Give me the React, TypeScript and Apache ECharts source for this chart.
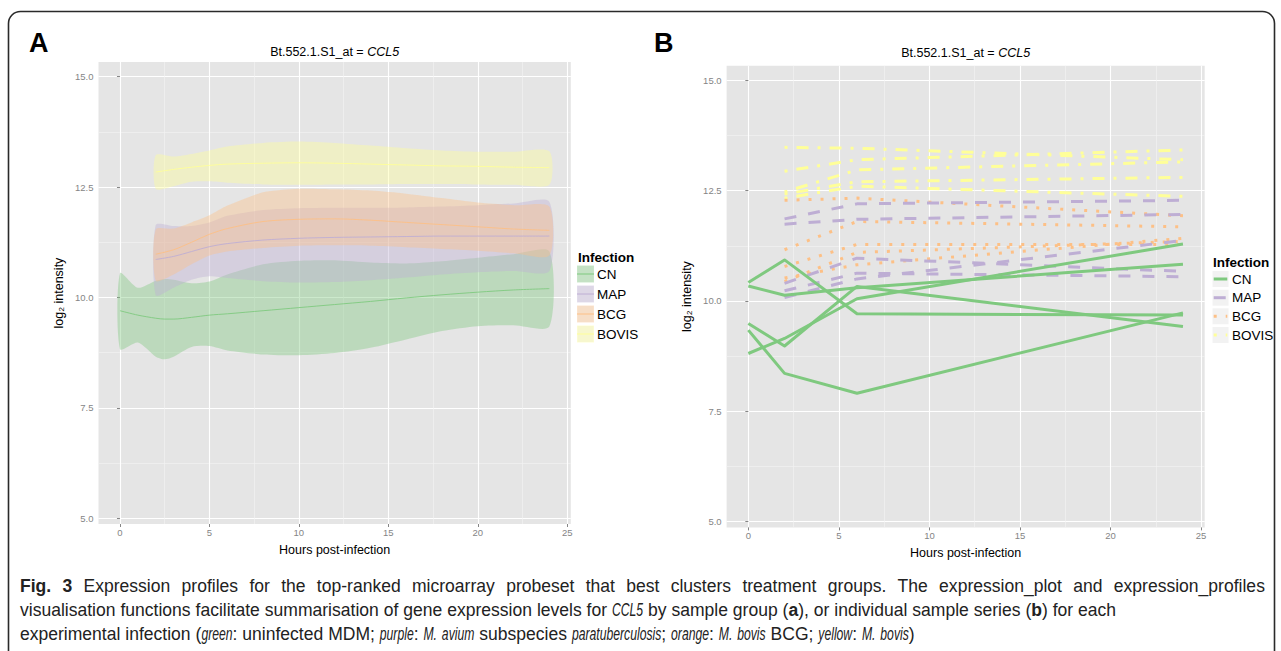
import React, { useEffect, useRef } from "react";
import * as echarts from "echarts";

const FONT = "'Liberation Sans', Arial, Helvetica, sans-serif";
const CAP_FAMILY = "'Liberation Sans'";

// ---------- shared ----------
const GROUPS = ["CN", "MAP", "BCG", "BOVIS"];
const HOUR_TICKS = [0, 5, 10, 15, 20, 25];
const HOUR_MINOR = [2.5, 7.5, 12.5, 17.5, 22.5];
const INT_TICKS = [5, 7.5, 10, 12.5, 15];
const INT_MINOR = [6.25, 8.75, 11.25, 13.75];

// ---------- Panel A: smoothed group means with confidence ribbons ----------
const cnHours = [0, 1, 2, 2.5, 3, 4, 5, 6, 8, 10, 12, 14, 16, 18, 20, 22, 24];
const cnLower = [8.83, 8.98, 8.66, 8.6, 8.66, 8.88, 8.9, 8.8, 8.71, 8.69, 8.74, 8.86, 9.05, 9.24, 9.35, 9.37, 9.34];
const cnMean = [9.7, 9.6, 9.53, 9.51, 9.51, 9.55, 9.6, 9.63, 9.7, 9.77, 9.84, 9.91, 9.99, 10.06, 10.12, 10.17, 10.2];
const cnUpper = [10.55, 10.22, 10.38, 10.42, 10.4, 10.32, 10.36, 10.52, 10.75, 10.83, 10.84, 10.79, 10.77, 10.82, 10.9, 10.98, 11.04];

const infHours = [2, 3, 4, 5, 6, 8, 10, 12, 14, 16, 18, 20, 22, 24];
const mapLower = [10.05, 10.22, 10.4, 10.48, 10.44, 10.37, 10.34, 10.35, 10.39, 10.45, 10.52, 10.57, 10.6, 10.6];
const mapMean = [10.86, 10.93, 11.04, 11.15, 11.22, 11.3, 11.34, 11.36, 11.37, 11.38, 11.39, 11.39, 11.39, 11.39];
const mapUpper = [11.64, 11.62, 11.62, 11.7, 11.85, 11.98, 12.02, 12.03, 12.03, 12.04, 12.06, 12.09, 12.13, 12.17];
const bcgLower = [10.38, 10.52, 10.75, 10.95, 11.04, 11.12, 11.17, 11.18, 11.17, 11.14, 11.1, 11.06, 11.0, 10.95];
const bcgMean = [10.98, 11.08, 11.25, 11.43, 11.56, 11.72, 11.77, 11.78, 11.75, 11.7, 11.65, 11.6, 11.55, 11.52];
const bcgUpper = [11.54, 11.56, 11.7, 11.86, 12.08, 12.38, 12.46, 12.45, 12.42, 12.35, 12.25, 12.15, 12.09, 12.06];
const bovisLower = [12.46, 12.52, 12.62, 12.63, 12.6, 12.56, 12.55, 12.56, 12.56, 12.57, 12.57, 12.56, 12.55, 12.55];
const bovisMean = [12.84, 12.9, 12.95, 12.99, 13.02, 13.04, 13.05, 13.04, 13.02, 13.0, 12.98, 12.97, 12.95, 12.94];
const bovisUpper = [13.22, 13.19, 13.25, 13.33, 13.42, 13.5, 13.53, 13.5, 13.44, 13.38, 13.33, 13.3, 13.3, 13.31];

// ---------- Panel B: individual sample series ----------
const cnSampleHours = [0, 2, 6, 24];
const infSampleHours = [2, 6, 24];
const cnProfiles = [
  [10.42, 10.93, 9.71, 9.68],
  [10.34, 10.13, 10.3, 10.83],
  [9.49, 8.98, 10.33, 9.42],
  [9.34, 8.36, 7.91, 9.73],
  [8.81, 9.15, 10.05, 11.29],
];
const mapProfiles = [
  [11.86, 12.2, 12.28],
  [11.74, 11.85, 11.96],
  [10.4, 10.97, 10.67],
  [10.23, 10.63, 10.55],
  [10.08, 10.5, 11.37],
];
const bcgProfiles = [
  [12.28, 12.33, 11.93],
  [11.16, 11.8, 11.68],
  [10.78, 11.28, 11.28],
  [10.52, 10.82, 11.42],
  [10.44, 11.1, 11.35],
];
const bovisProfiles = [
  [13.48, 13.46, 13.2],
  [12.94, 13.2, 13.42],
  [12.47, 12.97, 13.15],
  [12.42, 12.7, 12.8],
  [12.33, 12.6, 12.37],
];

// ---------- caption ----------
const CAPTION_LINE_1 =
  "{b|Fig. 3} Expression profiles for the top-ranked microarray probeset that best clusters treatment groups. The expression_plot and expression_profiles";
const CAPTION_LINE_2 =
  "visualisation functions facilitate summarisation of gene expression levels for {i|CCL5} by sample group ({b|a}), or individual sample series ({b|b}) for each";
const CAPTION_LINE_3 =
  "experimental infection ({i|green}: uninfected MDM; {i|purple}: {i|M. avium} subspecies {i|paratuberculosis}; {i|orange}: {i|M. bovis} BCG; {i|yellow}: {i|M. bovis})";

// ---------- styles ----------
const COLORS: Record<string, string> = { CN: "#7FC97F", MAP: "#BEAED4", BCG: "#FDC086", BOVIS: "#FFFF99" };
const DASH: Record<string, any> = { CN: "solid", MAP: [12, 12], BCG: [3, 9], BOVIS: [3, 9, 12, 9] };
const TICK_COLOR = "#858585";
const CAP_COLOR = "#222";

function hexA(hex: string, a: number) {
  const r = parseInt(hex.slice(1, 3), 16);
  const g = parseInt(hex.slice(3, 5), 16);
  const b = parseInt(hex.slice(5, 7), 16);
  return `rgba(${r},${g},${b},${a})`;
}

let measureCtx: CanvasRenderingContext2D | null = null;
function measure(text: string, font: string) {
  if (!measureCtx) measureCtx = document.createElement("canvas").getContext("2d");
  if (!measureCtx) return text.length * 8;
  measureCtx.font = font;
  return measureCtx.measureText(text).width;
}

type Run = { t: string; s: string };
function parseRuns(line: string): Run[] {
  const runs: Run[] = [];
  const re = /\{([bi])\|([^}]*)\}/g;
  let last = 0;
  let m: RegExpExecArray | null;
  while ((m = re.exec(line))) {
    if (m.index > last) runs.push({ t: line.slice(last, m.index), s: "r" });
    runs.push({ t: m[2], s: m[1] });
    last = re.lastIndex;
  }
  if (last < line.length) runs.push({ t: line.slice(last), s: "r" });
  return runs;
}
function toWords(runs: Run[]): Run[][] {
  const words: Run[][] = [[]];
  runs.forEach((r) => {
    r.t.split(" ").forEach((p, i) => {
      if (i > 0) words.push([]);
      if (p) words[words.length - 1].push({ t: p, s: r.s });
    });
  });
  return words.filter((w) => w.length);
}
function capFont(s: string, size: number) {
  return `${s === "i" ? "italic " : ""}${s === "b" ? "bold " : ""}${size}px ${CAP_FAMILY}`;
}
function lineWidths(line: string, size: number) {
  const words = toWords(parseRuns(line));
  let reg = 0;
  let ital = 0;
  words.forEach((w) => w.forEach((r) => {
    const wd = measure(r.t, capFont(r.s, size));
    if (r.s === "i") ital += wd; else reg += wd;
  }));
  const space = measure(" ", capFont("r", size)) * (words.length - 1);
  return { reg: reg + space, ital };
}
function layoutCaptionLine(line: string, size: number, x0: number, y: number, sr: number, si: number, justifyTo?: number) {
  const words = toWords(parseRuns(line));
  const scaleOf = (s: string) => (s === "i" ? si : sr);
  const wordW = words.map((w) => w.reduce((a, r) => a + measure(r.t, capFont(r.s, size)) * scaleOf(r.s), 0));
  const space = measure(" ", capFont("r", size)) * sr;
  const gap = justifyTo !== undefined ? (justifyTo - x0 - wordW.reduce((a, b) => a + b, 0)) / (words.length - 1) : space;
  const els: any[] = [];
  let x = x0;
  words.forEach((w, wi) => {
    let cx = x;
    w.forEach((r) => {
      const sc = scaleOf(r.s);
      els.push({
        type: "text",
        x: cx,
        y,
        scaleX: sc,
        style: {
          text: r.t,
          x: 0,
          y: 0,
          verticalAlign: "middle",
          fontFamily: CAP_FAMILY,
          fontSize: size,
          fontWeight: r.s === "b" ? "bold" : "normal",
          fontStyle: r.s === "i" ? "italic" : "normal",
          fill: CAP_COLOR,
        },
      });
      cx += measure(r.t, capFont(r.s, size)) * sc;
    });
    x += wordW[wi] + gap;
  });
  return els;
}

function captionGraphics() {
  const sr = 0.95;
  // font size chosen so that line 2 spans its width in the figure
  const w2 = lineWidths(CAPTION_LINE_2, 17.5);
  let size = (17.5 * 1110) / ((w2.reg + w2.ital) * sr);
  size = Math.max(16, Math.min(19.5, size));
  const w3 = lineWidths(CAPTION_LINE_3, size);
  let si = (873 - w3.reg * sr) / w3.ital;
  si = Math.max(0.66, Math.min(sr, si));
  return [
    ...layoutCaptionLine(CAPTION_LINE_1, size, 20, 586, sr, si, 1265),
    ...layoutCaptionLine(CAPTION_LINE_2, size, 20, 610, sr, si),
    ...layoutCaptionLine(CAPTION_LINE_3, size, 20, 634, sr, si),
  ];
}

function axisPair(gridIndex: number, kind: "x" | "y") {
  const isX = kind === "x";
  const major = isX ? HOUR_TICKS : INT_TICKS;
  const minor = isX ? HOUR_MINOR : INT_MINOR;
  const range = isX ? { min: -1.2, max: 25.2 } : { min: 4.87, max: 15.33 };
  const name = isX ? "Hours post-infection" : "log\u2082 intensity";
  return [
    {
      type: "value",
      gridIndex,
      ...range,
      axisLine: { show: false },
      axisTick: { show: true, length: 3, customValues: major, lineStyle: { color: TICK_COLOR, width: 1 } },
      axisLabel: {
        customValues: major,
        margin: isX ? 3 : 5,
        color: TICK_COLOR,
        fontSize: 9.5,
        fontFamily: FONT,
        formatter: (v: number) => (isX ? String(v) : v.toFixed(1)),
      },
      splitLine: { show: true, lineStyle: { color: "#ffffff", width: 1.1 } },
      name,
      nameLocation: "middle",
      nameGap: isX ? 19 : 33,
      nameRotate: isX ? 0 : 90,
      nameTextStyle: { color: "#000", fontSize: 12.5, fontFamily: FONT },
    },
    {
      type: "value",
      gridIndex,
      ...range,
      axisLine: { show: false },
      axisTick: { show: false, customValues: minor },
      axisLabel: { show: false, customValues: minor },
      splitLine: { show: true, lineStyle: { color: "#f3f3f3", width: 0.6 } },
    },
  ];
}

function ribbon(hours: number[], lower: number[], upper: number[], color: string) {
  return {
    type: "custom",
    xAxisIndex: 0,
    yAxisIndex: 0,
    silent: true,
    clip: true,
    z: 2,
    dimensions: ["t", "lo", "hi"],
    encode: { x: "t", y: ["lo", "hi"] },
    data: hours.map((h, i) => [h, lower[i], upper[i]]),
    renderItem: (params: any, api: any) => {
      if (params.dataIndex !== 0) return null;
      const pts: number[][] = [];
      for (let i = 0; i < hours.length; i++) pts.push(api.coord([hours[i], upper[i]]));
      for (let i = hours.length - 1; i >= 0; i--) pts.push(api.coord([hours[i], lower[i]]));
      return {
        type: "polygon",
        shape: { points: pts, smooth: 0.25 },
        style: { fill: hexA(color, 0.4), stroke: "none" },
      };
    },
  };
}

function meanLine(name: string, hours: number[], mean: number[], color: string) {
  return {
    type: "line",
    name,
    xAxisIndex: 0,
    yAxisIndex: 0,
    data: hours.map((h, i) => [h, mean[i]]),
    symbol: "none",
    smooth: 0.3,
    silent: true,
    z: 3,
    lineStyle: { color, width: 0.9 },
  };
}

function profileLines(name: string, hours: number[], profiles: number[][]) {
  return profiles.map((p, k) => ({
    type: "line",
    name: `${name} ${k + 1}`,
    xAxisIndex: 2,
    yAxisIndex: 2,
    data: hours.map((h, i) => [h, p[i]]),
    symbol: "none",
    silent: true,
    z: 3,
    lineStyle: { color: COLORS[name], width: 3, type: DASH[name], cap: "butt", join: "round" },
  }));
}

function legendGraphic(panel: "A" | "B", x: number, titleY: number, ys: number[]) {
  const els: any[] = [
    {
      type: "text",
      style: { text: "Infection", x: x + 1, y: titleY, verticalAlign: "middle", fontFamily: FONT, fontSize: 13.5, fontWeight: "bold", fill: "#000" },
    },
  ];
  GROUPS.forEach((g, i) => {
    const cy = ys[i];
    els.push({ type: "rect", shape: { x, y: cy - 8.5, width: 17, height: 17 }, style: { fill: "#f2f2f2", stroke: "#ffffff", lineWidth: 1 } });
    if (panel === "A") {
      els.push({ type: "rect", shape: { x, y: cy - 8.5, width: 17, height: 17 }, style: { fill: hexA(COLORS[g], 0.4) } });
      els.push({ type: "line", shape: { x1: x, y1: cy, x2: x + 17, y2: cy }, style: { stroke: COLORS[g], lineWidth: 1 } });
    } else {
      const d = DASH[g];
      els.push({
        type: "line",
        shape: { x1: x + 1.7, y1: cy, x2: x + 15.3, y2: cy },
        style: { stroke: COLORS[g], lineWidth: 3, lineDash: Array.isArray(d) ? d : null, lineCap: "butt" },
      });
    }
    els.push({
      type: "text",
      style: { text: g, x: x + 20, y: cy, verticalAlign: "middle", fontFamily: FONT, fontSize: 13.5, fill: "#000" },
    });
  });
  return els;
}

function buildOption() {
  const gridA = { left: 98.5, top: 62.1, width: 472.3, height: 461.9 };
  const gridB = { left: 726.6, top: 65.7, width: 478.1, height: 461.7 };
  const gridCommon = { show: true, backgroundColor: "#e5e5e5", borderWidth: 0, containLabel: false, outerBoundsMode: "none" };

  const titleRich = {
    n: { fontFamily: FONT, fontSize: 12.5, fill: "#000", color: "#000" },
    i: { fontFamily: FONT, fontSize: 12.5, fontStyle: "italic", fill: "#000", color: "#000" },
  };

  const graphics: any[] = [
    {
      type: "rect",
      shape: { x: 8.5, y: 11.5, width: 1266, height: 700, r: 12 },
      style: { fill: "none", stroke: "#2a2a2a", lineWidth: 1.6 },
      z: 0,
    },
    { type: "text", style: { text: "A", x: 29, y: 43, verticalAlign: "middle", fontFamily: FONT, fontSize: 27, fontWeight: "bold", fill: "#000" } },
    { type: "text", style: { text: "B", x: 654, y: 43, verticalAlign: "middle", fontFamily: FONT, fontSize: 27, fontWeight: "bold", fill: "#000" } },
    {
      type: "text",
      style: { text: "{n|Bt.552.1.S1_at = }{i|CCL5}", x: gridA.left + gridA.width / 2, y: 52, align: "center", verticalAlign: "middle", rich: titleRich },
    },
    {
      type: "text",
      style: { text: "{n|Bt.552.1.S1_at = }{i|CCL5}", x: gridB.left + gridB.width / 2, y: 53, align: "center", verticalAlign: "middle", rich: titleRich },
    },
    ...legendGraphic("A", 577, 257, [274, 294, 314, 334]),
    ...legendGraphic("B", 1212, 262, [279, 297.7, 316.3, 335]),
    ...captionGraphics(),
  ];

  const series: any[] = [
    ribbon(cnHours, cnLower, cnUpper, COLORS.CN),
    meanLine("CN", cnHours, cnMean, COLORS.CN),
    ribbon(infHours, mapLower, mapUpper, COLORS.MAP),
    meanLine("MAP", infHours, mapMean, COLORS.MAP),
    ribbon(infHours, bcgLower, bcgUpper, COLORS.BCG),
    meanLine("BCG", infHours, bcgMean, COLORS.BCG),
    ribbon(infHours, bovisLower, bovisUpper, COLORS.BOVIS),
    meanLine("BOVIS", infHours, bovisMean, COLORS.BOVIS),
    ...profileLines("BOVIS", infSampleHours, bovisProfiles),
    ...profileLines("BCG", infSampleHours, bcgProfiles),
    ...profileLines("MAP", infSampleHours, mapProfiles),
    ...profileLines("CN", cnSampleHours, cnProfiles),
  ];

  return {
    animation: false,
    backgroundColor: "#ffffff",
    grid: [
      { ...gridCommon, ...gridA },
      { ...gridCommon, ...gridB },
    ],
    xAxis: [...axisPair(0, "x"), ...axisPair(1, "x")],
    yAxis: [...axisPair(0, "y"), ...axisPair(1, "y")],
    series,
    graphic: { elements: graphics },
  };
}

export default function App() {
  const ref = useRef<HTMLDivElement>(null);
  useEffect(() => {
    if (!ref.current) return;
    const chart = echarts.init(ref.current, undefined, { renderer: "svg" });
    chart.setOption(buildOption() as any);
    return () => chart.dispose();
  }, []);
  return (
    <div
      ref={ref}
      style={{ position: "absolute", left: 0, top: 0, width: 1281, height: 651, background: "#fff" }}
    />
  );
}
